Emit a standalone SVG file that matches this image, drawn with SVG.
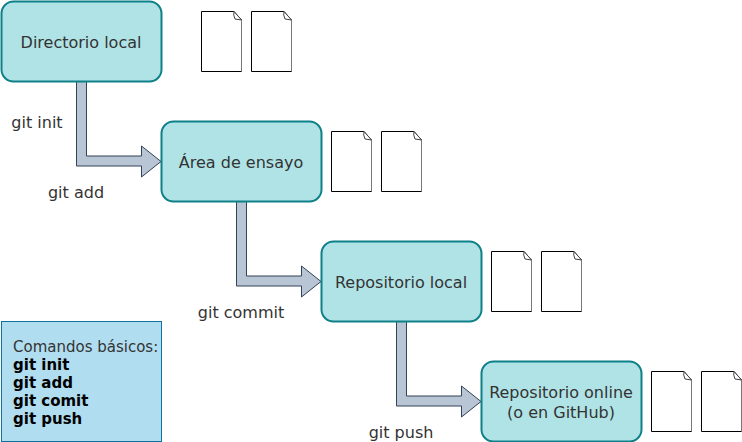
<svg xmlns="http://www.w3.org/2000/svg" width="742" height="442" viewBox="0 0 742 442">
<style>
text{font-family:"DejaVu Sans",sans-serif;font-size:16px;fill:#333}
.c{text-anchor:middle}
.n{fill:#b0e3e6;stroke:#0e8088;stroke-width:2}
.a{fill:#b7c5d4;stroke:#314354;stroke-width:1}
.d{fill:#fff;stroke:#000;stroke-width:1}
.f{fill:#fff;stroke:#444;stroke-width:1}
.m{font-size:15px}
.b{font-weight:bold;fill:#000;font-size:15px}
</style>
<defs>
<g id="doc">
<path class="d" d="M0.5 0.5H33L40.5 9V60.5H0.5Z"/>
<path class="f" d="M33 0.5L40.5 9L34 8Q32 4 33 0.5Z"/>
<path d="M40.5 9V60.5" fill="none" stroke="#777" stroke-width="1"/>
</g>
</defs>
<rect width="742" height="442" fill="#fff"/>
<g id="connectors">
<polygon class="a" points="76.500,81 86.500,81 86.500,156 141.500,156 141.500,146 161,161.500 141.500,177 141.500,166 76.500,166"/>
<polygon class="a" points="236.500,201 246.500,201 246.500,276 301.500,276 301.500,266 321,281.500 301.500,297 301.500,286 236.500,286"/>
<polygon class="a" points="396.500,321 406.500,321 406.500,396 461.500,396 461.500,386 481,401.500 461.500,417 461.500,406 396.500,406"/>
</g>
<g id="node-directorio"><rect class="n" x="1.500" y="1.500" width="160" height="80" rx="12"/><text class="c" x="81" y="48">Directorio local</text></g>
<g id="node-area"><rect class="n" x="161.500" y="121.500" width="160" height="80" rx="12"/><text class="c" x="241" y="168">Área de ensayo</text></g>
<g id="node-repo-local"><rect class="n" x="321.500" y="241.500" width="160" height="80" rx="12"/><text class="c" x="401" y="288">Repositorio local</text></g>
<g id="node-repo-online"><rect class="n" x="481.500" y="361.500" width="160" height="80" rx="12"/><text class="c" x="561" y="398">Repositorio online</text><text class="c" x="561" y="418">(o en GitHub)</text></g>
<g id="docs-1"><use href="#doc" x="201" y="11"/><use href="#doc" x="251" y="11"/></g>
<g id="docs-2"><use href="#doc" x="331" y="131"/><use href="#doc" x="381" y="131"/></g>
<g id="docs-3"><use href="#doc" x="491" y="251"/><use href="#doc" x="541" y="251"/></g>
<g id="docs-4"><use href="#doc" x="651" y="371"/><use href="#doc" x="701" y="371"/></g>
<g id="labels">
<text class="c" x="37" y="128">git init</text>
<text class="c" x="76" y="198">git add</text>
<text class="c" x="241" y="318">git commit</text>
<text class="c" x="401" y="438">git push</text>
</g>
<g id="node-comandos">
<rect x="1.500" y="321.500" width="160" height="120" fill="#b1ddf0" stroke="#10739e"/>
<text class="m" x="13" y="352">Comandos básicos:</text>
<text class="b" x="13" y="370">git init</text>
<text class="b" x="13" y="388">git add</text>
<text class="b" x="13" y="406">git comit</text>
<text class="b" x="13" y="424">git push</text>
</g>
</svg>
